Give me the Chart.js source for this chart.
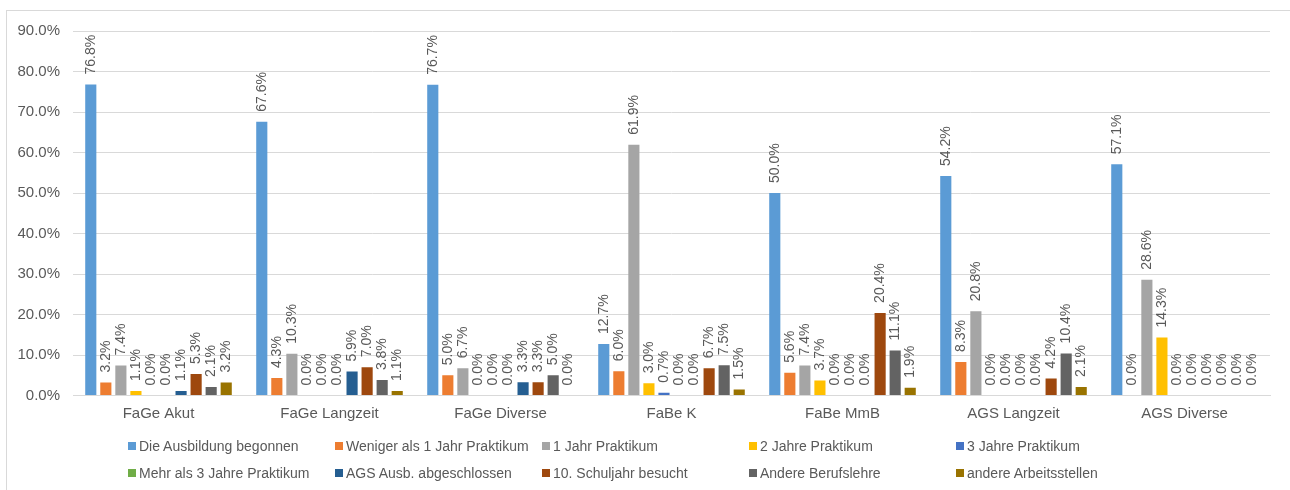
<!DOCTYPE html>
<html>
<head>
<meta charset="utf-8">
<script src="https://cdn.jsdelivr.net/npm/chart.js@4.4.0/dist/chart.umd.min.js"></script>
<style>
    body { margin: 0; width: 1290px; height: 490px; overflow: hidden; background: #fff; font-family: "Liberation Sans", Arial, sans-serif; }
    #frame { position: absolute; left: 6px; top: 10px; width: 1300px; height: 500px; border: 1px solid #d9d9d9; box-sizing: border-box; }
    #wrap { position: absolute; left: 0; top: 0; width: 1290px; height: 490px; }
    #legend { position: absolute; left: 128px; top: 436px; display: grid; grid-template-columns: repeat(5, 207px); row-gap: 7px; font-size: 14px; color: #595959; }
    .item { display: flex; align-items: center; height: 20px; white-space: nowrap; }
    .box { width: 8px; height: 8px; margin-right: 3px; flex: none; }
</style>
</head>
<body>
<div id="frame"></div>
<div id="wrap"><canvas id="chart" width="1290" height="490"></canvas></div>
<div id="legend"></div>
<script>
const categories = ['FaGe Akut', 'FaGe Langzeit', 'FaGe Diverse', 'FaBe K', 'FaBe MmB', 'AGS Langzeit', 'AGS Diverse'];
const yTicks = [0, 10, 20, 30, 40, 50, 60, 70, 80, 90];

const seriesNames = [
    'Die Ausbildung begonnen', 'Weniger als 1 Jahr Praktikum', '1 Jahr Praktikum', '2 Jahre Praktikum', '3 Jahre Praktikum',
    'Mehr als 3 Jahre Praktikum', 'AGS Ausb. abgeschlossen', '10. Schuljahr besucht', 'Andere Berufslehre', 'andere Arbeitsstellen'
];
const seriesColors = ['#5b9bd5', '#ed7d31', '#a5a5a5', '#ffc000', '#4472c4', '#70ad47', '#255e91', '#9e480e', '#636363', '#997300'];

// one array per series, values in percent, same order as categories
const ausbildung   = [76.8, 67.6, 76.7, 12.7, 50.0, 54.2, 57.1];
const wenigerAls1  = [3.2, 4.3, 5.0, 6.0, 5.6, 8.3, 0.0];
const einJahr      = [7.4, 10.3, 6.7, 61.9, 7.4, 20.8, 28.6];
const zweiJahre    = [1.1, 0.0, 0.0, 3.0, 3.7, 0.0, 14.3];
const dreiJahre    = [0.0, 0.0, 0.0, 0.7, 0.0, 0.0, 0.0];
const mehrAls3     = [0.0, 0.0, 0.0, 0.0, 0.0, 0.0, 0.0];
const agsAbgeschl  = [1.1, 5.9, 3.3, 0.0, 0.0, 0.0, 0.0];
const schuljahr10  = [5.3, 7.0, 3.3, 6.7, 20.4, 4.2, 0.0];
const berufslehre  = [2.1, 3.8, 5.0, 7.5, 11.1, 10.4, 0.0];
const arbeitsstell = [3.2, 1.1, 0.0, 1.5, 1.9, 2.1, 0.0];

const seriesValues = [ausbildung, wenigerAls1, einJahr, zweiJahre, dreiJahre, mehrAls3, agsAbgeschl, schuljahr10, berufslehre, arbeitsstell];

const FONT = '"Liberation Sans", Arial, sans-serif';
const TEXT = '#595959';

const barLabels = {
    id: 'barLabels',
    afterDatasetsDraw(chart) {
        const ctx = chart.ctx;
        ctx.save();
        ctx.fillStyle = TEXT;
        ctx.font = '14px ' + FONT;
        ctx.textAlign = 'left';
        ctx.textBaseline = 'middle';
        chart.data.datasets.forEach((ds, i) => {
            chart.getDatasetMeta(i).data.forEach((bar, j) => {
                ctx.save();
                ctx.translate(bar.x, bar.y - 10);
                ctx.rotate(-Math.PI / 2);
                ctx.fillText(ds.data[j].toFixed(1) + '%', 0, 0);
                ctx.restore();
            });
        });
        ctx.restore();
    }
};

const chart = new Chart(document.getElementById('chart'), {
    type: 'bar',
    data: {
        labels: categories,
        datasets: seriesNames.map((name, i) => ({
            label: name,
            data: seriesValues[i],
            backgroundColor: seriesColors[i],
            categoryPercentage: 0.88,
            barPercentage: 0.74
        }))
    },
    options: {
        responsive: false,
        animation: false,
        layout: { padding: { left: 0, right: 20, top: 31, bottom: 0 } },
        plugins: {
            legend: { display: false },
            tooltip: { enabled: false }
        },
        scales: {
            x: {
                grid: { display: false, drawTicks: false },
                border: { color: '#d9d9d9' },
                ticks: { color: TEXT, font: { family: FONT, size: 15 }, padding: 9 },
                afterFit: (s) => { s.height = 94.5; }
            },
            y: {
                min: 0,
                max: 90,
                afterBuildTicks: (s) => { s.ticks = yTicks.map(v => ({ value: v })); },
                grid: { color: '#d9d9d9', drawTicks: false },
                border: { display: false },
                ticks: { color: TEXT, font: { family: FONT, size: 15 }, padding: 13, callback: v => v.toFixed(1) + '%' },
                afterFit: (s) => { s.width = 73; }
            }
        }
    },
    plugins: [barLabels]
});

const legend = document.getElementById('legend');
seriesNames.forEach((name, i) => {
    const item = document.createElement('div');
    item.className = 'item';
    item.innerHTML = `<span class="box" style="background:${seriesColors[i]}"></span><span>${name}</span>`;
    legend.appendChild(item);
});
</script>
</body>
</html>
